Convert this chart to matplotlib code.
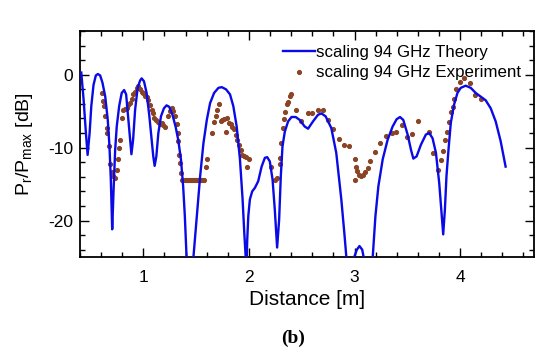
import matplotlib
matplotlib.use("Agg")
import matplotlib.pyplot as plt
from matplotlib.ticker import MultipleLocator

plt.rcParams['font.family'] = ['Liberation Sans', 'DejaVu Sans']
plt.rcParams['mathtext.fontset'] = 'custom'
plt.rcParams['mathtext.rm'] = 'Liberation Sans'
plt.rcParams['axes.unicode_minus'] = False

# Theory curve
theory_x = [0.412, 0.434, 0.456, 0.472, 0.491, 0.507, 0.528, 0.550, 0.569, 0.591,
            0.613, 0.639, 0.663, 0.679, 0.692, 0.705, 0.717, 0.733, 0.748, 0.771,
            0.795, 0.818, 0.837, 0.858, 0.874, 0.887, 0.903, 0.922, 0.946, 0.969,
            0.984, 1.006, 1.031, 1.057, 1.079, 1.094, 1.107, 1.123, 1.142, 1.167,
            1.195, 1.220, 1.245, 1.276, 1.305, 1.330, 1.356, 1.377, 1.393, 1.409,
            1.440, 1.475, 1.507, 1.538, 1.569, 1.601, 1.632, 1.670, 1.711, 1.742,
            1.783, 1.821, 1.852, 1.884, 1.915, 1.940, 1.956, 1.969, 1.976, 1.984,
            1.994, 2.009, 2.031, 2.057, 2.088, 2.120, 2.151, 2.173, 2.198, 2.224,
            2.245, 2.267, 2.286, 2.302, 2.318, 2.340, 2.371, 2.403, 2.443, 2.481,
            2.528, 2.560, 2.607, 2.654, 2.686, 2.726, 2.780, 2.827, 2.875, 2.906,
            2.922, 2.960, 3.000, 3.022, 3.047, 3.073, 3.085, 3.130, 3.173, 3.198,
            3.226, 3.267, 3.314, 3.361, 3.399, 3.431, 3.462, 3.503, 3.535, 3.557,
            3.588, 3.629, 3.676, 3.708, 3.739, 3.771, 3.802, 3.824, 3.840, 3.856,
            3.871, 3.890, 3.912, 3.943, 3.975, 4.006, 4.053, 4.101, 4.148, 4.195,
            4.242, 4.290, 4.337, 4.384, 4.431]
theory_y = [0.3, -3.4, -8.0, -11.0, -8.0, -4.3, -1.4, -0.1, 0.1, -0.1,
            -1.1, -3.0, -6.2, -9.8, -14.4, -21.2, -16.2, -10.3, -7.1, -4.3,
            -2.5, -2.1, -2.7, -6.2, -8.9, -10.9, -8.9, -4.8, -1.8, -0.8,
            -0.5, -0.9, -2.5, -5.7, -8.9, -11.2, -12.5, -11.2, -8.0, -5.7,
            -4.6, -4.2, -4.4, -5.5, -7.1, -8.9, -11.6, -15.3, -19.4, -24.9,
            -32.0, -24.9, -19.4, -13.9, -9.4, -6.2, -3.9, -2.5, -1.8, -1.7,
            -2.0, -2.7, -4.3, -7.1, -11.6, -17.1, -21.7, -24.9, -27.0, -22.6,
            -19.4, -17.1, -16.0, -15.5, -14.6, -12.6, -11.4, -11.3, -11.9, -14.4,
            -18.5, -23.7, -19.9, -13.9, -9.8, -7.8, -6.4, -5.8, -5.8, -6.2,
            -7.1, -7.4, -6.4, -5.5, -5.3, -5.7, -7.3, -10.7, -17.1, -22.1,
            -24.9, -30.0, -24.9, -24.0, -23.5, -24.0, -24.9, -30.0, -24.9, -19.4,
            -15.3, -11.6, -8.9, -7.1, -6.1, -5.8, -6.2, -8.2, -10.3, -11.5,
            -11.2, -9.6, -8.2, -8.0, -8.7, -10.7, -14.8, -18.9, -21.9, -18.5,
            -13.9, -10.3, -6.6, -4.1, -2.5, -1.8, -1.5, -1.8, -2.5, -3.0,
            -3.5, -4.6, -6.4, -9.1, -12.6]

# Experiment points
exp_x = [0.607, 0.620, 0.629, 0.640, 0.651, 0.660, 0.670, 0.686, 0.700, 0.717,
         0.733, 0.748, 0.764, 0.774, 0.780, 0.795, 0.811, 0.827, 0.842, 0.858,
         0.874, 0.890, 0.906, 0.922, 0.937, 0.953, 0.969, 0.984, 1.000, 1.016,
         1.031, 1.047, 1.063, 1.079, 1.088, 1.104, 1.116, 1.135, 1.157, 1.173,
         1.189, 1.205, 1.236, 1.252, 1.267, 1.283, 1.299, 1.314, 1.324, 1.330,
         1.340, 1.349, 1.361, 1.368,
         1.38, 1.39, 1.40, 1.41, 1.42, 1.43, 1.44, 1.45, 1.46, 1.47,
         1.48, 1.49, 1.50, 1.51, 1.52, 1.53, 1.54, 1.55, 1.56, 1.57,
         1.592, 1.607, 1.654, 1.670, 1.686, 1.701, 1.717, 1.733, 1.748, 1.764,
         1.780, 1.796, 1.811, 1.827, 1.843, 1.858, 1.874, 1.890, 1.906, 1.922,
         1.937, 1.953, 1.969, 1.978, 2.000, 2.205, 2.250, 2.265, 2.292, 2.299,
         2.305, 2.321, 2.330, 2.346, 2.361, 2.371, 2.387, 2.403, 2.450, 2.497,
         2.560, 2.601, 2.654, 2.701, 2.748, 2.795, 2.852, 2.899, 2.946, 3.000,
         3.006, 3.016, 3.025, 3.047, 3.063, 3.078, 3.104, 3.126, 3.151, 3.198,
         3.245, 3.299, 3.355, 3.396, 3.450, 3.497, 3.544, 3.597, 3.701, 3.748,
         3.795, 3.821, 3.842, 3.858, 3.877, 3.896, 3.915, 3.931, 3.946, 3.962,
         4.000, 4.041, 4.090, 4.145, 4.197]
exp_y = [-2.5, -3.6, -4.3, -5.6, -7.3, -8.0, -9.8, -12.3, -13.3, -13.9,
         -14.2, -13.0, -11.6, -10.0, -8.9, -5.9, -4.8, -4.7, -4.6, -4.2,
         -3.9, -3.3, -2.7, -2.3, -1.8, -1.6, -2.0, -2.3, -2.5, -2.9,
         -3.1, -3.4, -4.1, -4.8, -5.3, -5.9, -6.2, -6.5, -6.7, -6.6,
         -6.9, -7.1, -5.7, -5.0, -4.6, -5.0, -5.7, -6.8, -8.0, -9.1,
         -11.0, -12.1, -13.5, -14.4,
         -14.5, -14.5, -14.5, -14.5, -14.5, -14.5, -14.5, -14.5, -14.5, -14.5,
         -14.5, -14.5, -14.5, -14.5, -14.5, -14.5, -14.5, -14.5, -14.5, -14.5,
         -12.6, -11.6, -8.0, -6.5, -5.6, -4.9, -4.0, -6.4, -6.2, -6.1,
         -7.8, -5.9, -6.6, -6.7, -7.1, -7.5, -8.2, -8.9, -9.6, -10.3,
         -11.0, -11.1, -11.3, -12.6, -11.6, -12.6, -14.5, -14.2, -12.2, -11.4,
         -9.3, -7.3, -6.1, -5.1, -4.0, -3.7, -2.9, -2.7, -4.9, -6.4,
         -5.2, -5.2, -4.9, -4.8, -6.2, -7.4, -8.8, -9.6, -9.8, -14.4,
         -11.6, -12.6, -13.2, -13.7, -13.9, -13.8, -13.4, -12.8, -11.9, -10.6,
         -9.4, -8.4, -8.0, -7.8, -6.9, -8.6, -8.1, -6.4, -7.8, -10.7,
         -13.0, -11.7, -10.5, -9.0, -7.8, -6.5, -5.1, -4.4, -3.3, -2.0,
         -1.0, -0.5, -1.1, -2.8, -3.3]

fig = plt.figure(figsize=(5.5, 3.56), dpi=100)
ax = fig.add_axes([80/550, 1-257/356, 454/550, 226/356])

ax.plot(theory_x, theory_y, color='#0a0ae6', lw=1.7, label='scaling 94 GHz Theory', zorder=3)
ax.plot(exp_x, exp_y, linestyle='none', marker='o', ms=2.7, color='#8a4424',
        mec='#8a4424', label='scaling 94 GHz Experiment', zorder=2)

ax.set_xlim(0.4, 4.7)
ax.set_ylim(-25, 6)
ax.xaxis.set_major_locator(MultipleLocator(1))
ax.xaxis.set_minor_locator(MultipleLocator(0.2))
ax.yaxis.set_major_locator(MultipleLocator(10))
ax.yaxis.set_minor_locator(MultipleLocator(2))
ax.tick_params(which='both', direction='in', top=True, right=True, width=1.0, labelsize=12.5)
ax.tick_params(which='major', length=6.5)
ax.tick_params(axis='x', which='major', pad=9)
ax.tick_params(axis='y', which='major', pad=5)
ax.tick_params(which='minor', length=3.5)
for s in ax.spines.values():
    s.set_linewidth(1.3)

ax.set_xlabel('Distance [m]', fontsize=15, labelpad=4)
ax.set_ylabel(r'P$_\mathregular{r}$/P$_\mathregular{max}$ [dB]', fontsize=14)
ax.yaxis.set_label_coords(-0.10, 0.5)

leg = ax.legend(loc='upper left', bbox_to_anchor=(0.447, 0.94), frameon=False,
                fontsize=12.2, borderpad=0, borderaxespad=0, handlelength=1.9,
                handletextpad=0.08, labelspacing=0.35, markerscale=1.0)

fig.text(293/550, 1-338/356, '(b)', ha='center', va='center', fontsize=14,
         fontweight='bold', family=['Liberation Serif', 'DejaVu Serif'])

fig.savefig('out.png', dpi=100)
